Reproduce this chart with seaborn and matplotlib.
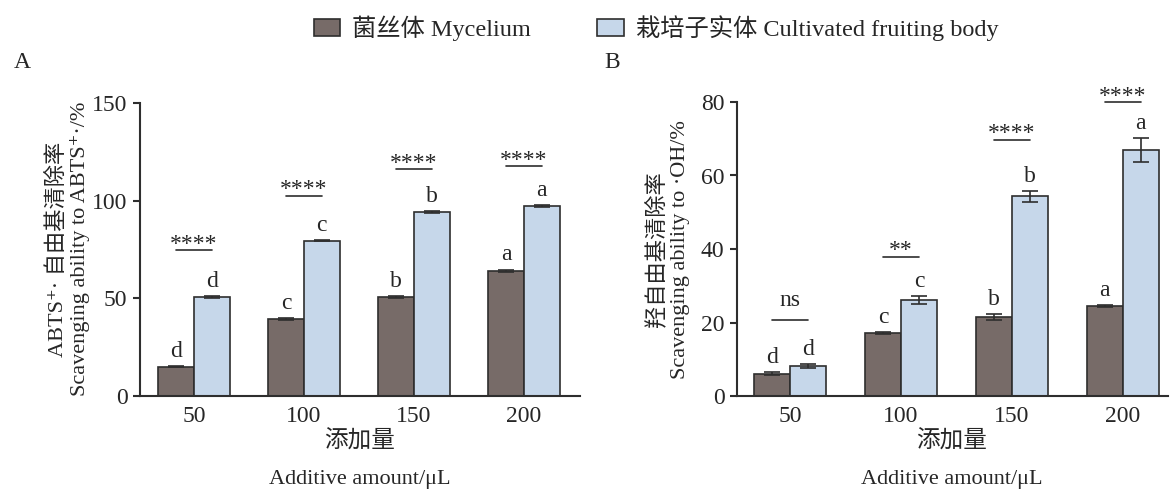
import matplotlib
matplotlib.use("Agg")
import matplotlib.pyplot as plt
import seaborn as sns
import pandas as pd

# ---------------- data ----------------
amounts = ["50", "100", "150", "200"]
groups = ["菌丝体 Mycelium", "栽培子实体 Cultivated fruiting body"]

abts_myc = [15.0, 39.3, 50.6, 64.2]
abts_myc_err = [0.4, 0.4, 0.4, 0.5]
abts_fru = [50.5, 79.5, 94.3, 97.4]
abts_fru_err = [0.5, 0.4, 0.4, 0.4]
abts_myc_letters = ["d", "c", "b", "a"]
abts_fru_letters = ["d", "c", "b", "a"]
abts_sig = ["****", "****", "****", "****"]
abts_sig_y = [74.6, 102.4, 116.0, 117.5]

oh_myc = [6.0, 17.2, 21.4, 24.5]
oh_myc_err = [0.4, 0.3, 0.8, 0.3]
oh_fru = [8.2, 26.0, 54.3, 67.0]
oh_fru_err = [0.5, 1.1, 1.5, 3.2]
oh_myc_letters = ["d", "c", "b", "a"]
oh_fru_letters = ["d", "c", "b", "a"]
oh_sig = ["ns", "**", "****", "****"]
oh_sig_y = [20.8, 37.9, 69.7, 79.9]

# ---------------- style ----------------
sns.set_style("ticks")
plt.rcParams["font.family"] = ["Liberation Serif", "Noto Sans CJK SC", "DejaVu Sans"]
plt.rcParams["axes.unicode_minus"] = False

C_MYC = "#776b68"
C_FRU = "#c6d7ea"
DARK = "#2e2e2e"
FS = 16
FS_TICK = 17

W, H = 1170, 490
fig = plt.figure(figsize=(W / 100, H / 100), dpi=100)

axA = fig.add_axes([140 / W, 1 - 396 / H, 440 / W, 293 / H])
axB = fig.add_axes([737 / W, 1 - 396 / H, 431 / W, 294 / H])


def make_df(myc, fru):
    rows = []
    for a, v in zip(amounts, myc):
        rows.append({"amount": a, "group": groups[0], "value": v})
    for a, v in zip(amounts, fru):
        rows.append({"amount": a, "group": groups[1], "value": v})
    return pd.DataFrame(rows)


def draw(ax, myc, myc_err, fru, fru_err, myc_let, fru_let, sig, sig_y,
         ylim, yticks, xlim):
    df = make_df(myc, fru)
    sns.barplot(data=df, x="amount", y="value", hue="group", order=amounts,
                hue_order=groups, palette=[C_MYC, C_FRU], width=0.65,
                edgecolor=DARK, linewidth=1.2, errorbar=None, ax=ax,
                saturation=1)
    handles, labels = ax.get_legend_handles_labels()
    if ax.get_legend() is not None:
        ax.get_legend().remove()

    cont_m, cont_f = ax.containers[0], ax.containers[1]
    xm = [p.get_x() + p.get_width() / 2 for p in cont_m]
    xf = [p.get_x() + p.get_width() / 2 for p in cont_f]

    ax.errorbar(xm, myc, yerr=myc_err, fmt="none", ecolor=DARK,
                elinewidth=1.2, capsize=6, capthick=1.2, zorder=4)
    ax.errorbar(xf, fru, yerr=fru_err, fmt="none", ecolor=DARK,
                elinewidth=1.2, capsize=6, capthick=1.2, zorder=4)

    for x, v, e, t in zip(xm, myc, myc_err, myc_let):
        ax.annotate(t, (x, v + e), xytext=(0, 3), textcoords="offset points",
                    ha="center", va="bottom", fontsize=FS_TICK,
                    annotation_clip=False)
    for x, v, e, t in zip(xf, fru, fru_err, fru_let):
        ax.annotate(t, (x, v + e), xytext=(0, 3), textcoords="offset points",
                    ha="center", va="bottom", fontsize=FS_TICK,
                    annotation_clip=False)

    for x1, x2, y, s in zip(xm, xf, sig_y, sig):
        ax.plot([x1, x2], [y, y], color=DARK, lw=1.2, clip_on=False, zorder=4)
        off = 10 if s == "ns" else 0.5
        ax.annotate(s, ((x1 + x2) / 2, y), xytext=(0, off),
                    textcoords="offset points", ha="center", va="baseline",
                    fontsize=FS_TICK, annotation_clip=False)

    ax.set_ylim(*ylim)
    ax.set_yticks(yticks)
    ax.set_xlim(*xlim)
    ax.set_xlabel("")
    ax.set_ylabel("")
    sns.despine(ax=ax)
    for sp in ("left", "bottom"):
        ax.spines[sp].set_color(DARK)
        ax.spines[sp].set_linewidth(1.5)
    ax.tick_params(axis="y", direction="out", length=5, width=1.5,
                   color=DARK, labelsize=FS_TICK, pad=4)
    ax.tick_params(axis="x", length=0, labelsize=FS_TICK, pad=7)
    return handles, labels


handles, labels = draw(axA, abts_myc, abts_myc_err, abts_fru, abts_fru_err,
                       abts_myc_letters, abts_fru_letters, abts_sig, abts_sig_y,
                       (0, 150), [0, 50, 100, 150], (-0.49, 3.51))
draw(axB, oh_myc, oh_myc_err, oh_fru, oh_fru_err,
     oh_myc_letters, oh_fru_letters, oh_sig, oh_sig_y,
     (0, 80), [0, 20, 40, 60, 80], (-0.48, 3.41))

# legend
fig.legend(handles, labels, loc="center", bbox_to_anchor=(656 / W, 1 - 28 / H),
           ncol=2, frameon=False, fontsize=17.5, handlelength=1.1,
           handleheight=0.75, handletextpad=0.5, columnspacing=2.7)

# panel letters
fig.text(14 / W, 1 - 63 / H, "A", fontsize=FS_TICK, ha="left", va="center")
fig.text(604 / W, 1 - 63 / H, "B", fontsize=FS_TICK, ha="left", va="center")

# y labels
fig.text(57 / W, 1 - 249 / H, "ABTS⁺· 自由基清除率", rotation=90,
         ha="center", va="center", fontsize=FS)
fig.text(80 / W, 1 - 249 / H, "Scavenging ability to ABTS⁺·/%", rotation=90,
         ha="center", va="center", fontsize=FS)
fig.text(656 / W, 1 - 249 / H, "羟自由基清除率", rotation=90,
         ha="center", va="center", fontsize=FS)
fig.text(681 / W, 1 - 250 / H, "Scavenging ability to ·OH/%", rotation=90,
         ha="center", va="center", fontsize=FS)

# x labels
for cx in (360, 952):
    fig.text(cx / W, 1 - 441 / H, "添加量", ha="center", va="center",
             fontsize=17)
    fig.text(cx / W, 1 - 479 / H, "Additive amount/μL", ha="center",
             va="center", fontsize=FS)

fig.savefig("out.png", dpi=100)
